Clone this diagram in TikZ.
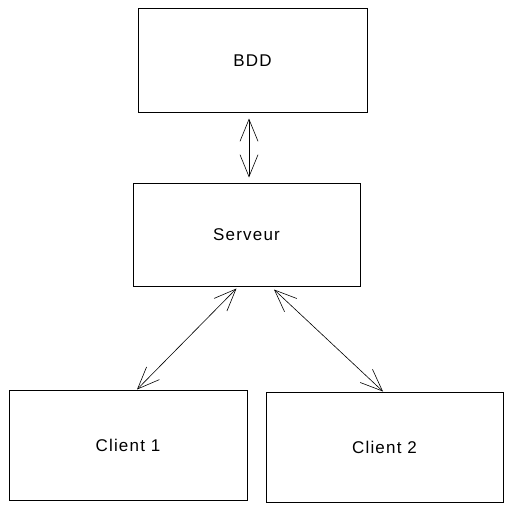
\documentclass[tikz,border=0pt]{standalone}
\usepackage{fontspec}
\setmainfont[LetterSpace=7]{Liberation Sans}
\usetikzlibrary{arrows.meta}
\tikzset{
  box/.style={draw,line width=1pt,rectangle,inner sep=0pt,
    font=\fontsize{17}{20}\selectfont},
  link/.style={line width=0.6pt,{Straight Barb[length=22pt,width=18pt]}-{Straight Barb[length=22pt,width=18pt]}}
}
\begin{document}
\begin{tikzpicture}[x=1pt,y=-1pt]
        \useasboundingbox (0,0) rectangle (513,511);
        %% boxes
        \node[box,minimum width=229pt,minimum height=103pt] (bdd) at (252.5,60.5) {BDD};
        \node[box,minimum width=227pt,minimum height=103pt] (srv) at (246.5,234.5) {Serveur};
        \node[box,minimum width=238pt,minimum height=110pt] (c1) at (128,445) {Client 1};
        \node[box,minimum width=237pt,minimum height=110pt] (c2) at (384.5,447) {Client 2};
        %% links
        \draw[link] ([xshift=-3.5pt,yshift=-6pt]bdd.south) -- ([xshift=2.5pt,yshift=5pt]srv.north);
        \draw[link] ([xshift=-10pt,yshift=-2pt]srv.south) -- ([xshift=9pt]c1.north);
        \draw[link] ([xshift=27.5pt,yshift=-3pt]srv.south) -- ([xshift=-1.5pt]c2.north);
\end{tikzpicture}
\end{document}
